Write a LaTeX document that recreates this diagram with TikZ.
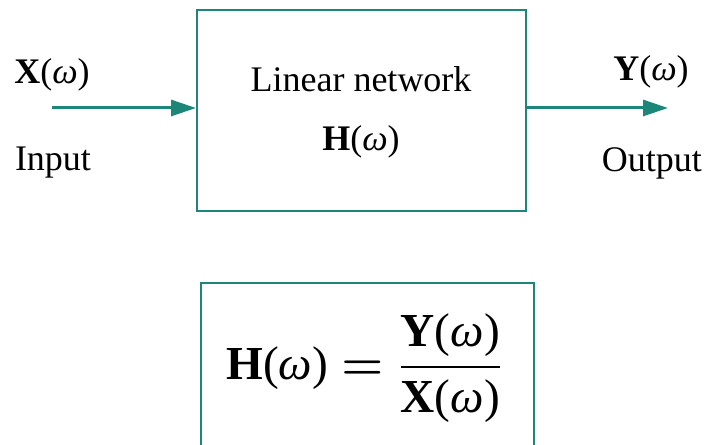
\documentclass[tikz,border=0pt]{standalone}
\usepackage{amsmath}
\usepackage{fontspec}
\setmainfont{Liberation Serif}
\usetikzlibrary{positioning,arrows.meta}
\definecolor{netteal}{RGB}{28,134,120}
\newcommand{\sig}[1]{\textbf{#1}(\textit{ω})}

\begin{document}
\begin{tikzpicture}[x=0.3pt,y=-0.3pt,
  font=\fontsize{10.8}{13}\selectfont,
  box/.style={draw=netteal, line width=0.6pt, inner sep=0pt},
  lbl/.style={inner sep=0pt},
  ar/.style={-{Triangle[length=7.5pt,width=4.8pt]}, draw=netteal, line width=0.9pt}
]
\useasboundingbox (0,0) rectangle (709,445);
\clip (0,0) rectangle (709,445);
% block
\node[box, minimum width=98.7pt, minimum height=60.3pt] (net) at (361.5,110.5) {};
\node[lbl] (name) at (361,79) {Linear network};
\node[lbl] (hw) at (361,142) {\sig{H}};
% input / output
\coordinate (in) at (52,108);
\coordinate (out) at (668,108);
\node[lbl] (x) at (52,75) {\sig{X}};
\node[lbl] (inp) at (53,163) {Input};
\node[lbl] (y) at (651,72) {\sig{Y}};
\node[lbl] (outp) at (652,163) {Output};
\draw[ar] (in) -- (in -| net.west);
\draw[ar] (out -| net.east) -- (out);
% transfer function
\node[box, minimum width=99.9pt, minimum height=54pt] (eqbox) at (367.5,373) {};
\node[lbl, font=\fontsize{14.2}{17}\selectfont] (tf) at (365,368)
  {$\text{\sig{H}} \boldsymbol{=} \dfrac{\text{\sig{Y}}}{\text{\sig{X}}}$};
\end{tikzpicture}
\end{document}
